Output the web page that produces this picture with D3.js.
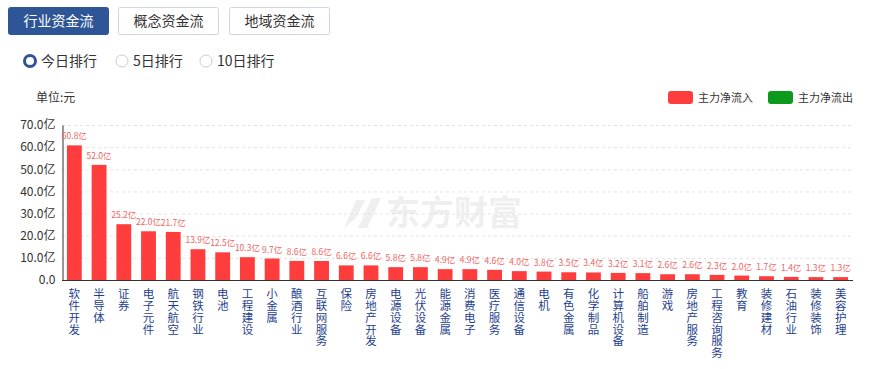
<!DOCTYPE html>
<html>
<head>
<meta charset="utf-8">
<script src="https://cdn.jsdelivr.net/npm/d3@7.9.0/dist/d3.min.js"></script>
<style>
  body { margin: 0; background: #fff; font-family: "Microsoft YaHei", "Noto Sans CJK SC", sans-serif; }
  svg { display: block; }
</style>
</head>
<body>
<svg id="chart" width="883" height="369"></svg>
<script>
// Data
const categories = ['软件开发', '半导体', '证券', '电子元件', '航天航空', '钢铁行业', '电池', '工程建设',
    '小金属', '酿酒行业', '互联网服务', '保险', '房地产开发', '电源设备', '光伏设备', '能源金属',
    '消费电子', '医疗服务', '通信设备', '电机', '有色金属', '化学制品', '计算机设备', '船舶制造',
    '游戏', '房地产服务', '工程咨询服务', '教育', '装修建材', '石油行业', '装修装饰', '美容护理'];
const inflow = [60.8, 52.0, 25.2, 22.0, 21.7, 13.9, 12.5, 10.3, 9.7, 8.6, 8.6, 6.6, 6.6, 5.8, 5.8, 4.9,
    4.9, 4.6, 4.0, 3.8, 3.5, 3.4, 3.2, 3.1, 2.6, 2.6, 2.3, 2.0, 1.7, 1.4, 1.3, 1.3];
const yTicks = [0, 10, 20, 30, 40, 50, 60, 70];
const tabs = ['行业资金流', '概念资金流', '地域资金流'];
const ranks = ['今日排行', '5日排行', '10日排行'];
const legendItems = [{ name: '主力净流入', color: '#ff3d3d' }, { name: '主力净流出', color: '#0c9a1c' }];

const font = '"Microsoft YaHei", "Noto Sans CJK SC", sans-serif';
const svg = d3.select('#chart');

// Tabs
const tabX = [8, 118, 229];
tabs.forEach((t, i) => {
    const g = svg.append('g').attr('transform', `translate(${tabX[i]}, 7)`);
    g.append('rect')
        .attr('x', 0.5).attr('y', 0.5)
        .attr('width', 100).attr('height', 27)
        .attr('rx', 2)
        .attr('fill', i === 0 ? '#2e5596' : '#fff')
        .attr('stroke', i === 0 ? '#2e5596' : '#cfd6e0');
    g.append('text')
        .attr('x', 50.5).attr('y', 19)
        .attr('text-anchor', 'middle')
        .attr('font-family', font)
        .attr('font-size', 14)
        .attr('fill', i === 0 ? '#fff' : '#333')
        .text(t);
});

// Radios
const radioX = [30, 122, 206];
ranks.forEach((r, i) => {
    const g = svg.append('g').attr('transform', `translate(${radioX[i]}, 61)`);
    if (i === 0) {
        g.append('circle').attr('r', 5.5).attr('fill', '#fff').attr('stroke', '#2e5596').attr('stroke-width', 3);
    } else {
        g.append('circle').attr('r', 6).attr('fill', '#fff').attr('stroke', '#ccc');
    }
    g.append('text')
        .attr('x', 11).attr('y', 5)
        .attr('font-family', font)
        .attr('font-size', 14)
        .attr('fill', '#333')
        .text(r);
});

// Unit + legend
svg.append('text')
    .attr('x', 36).attr('y', 102)
    .attr('font-family', font).attr('font-size', 12).attr('fill', '#333')
    .text('单位:元');

const legendX = [668, 768];
legendItems.forEach((d, i) => {
    svg.append('rect')
        .attr('x', legendX[i]).attr('y', 91)
        .attr('width', 25).attr('height', 13).attr('rx', 3)
        .attr('fill', d.color);
    svg.append('text')
        .attr('x', legendX[i] + 30).attr('y', 102)
        .attr('font-family', font).attr('font-size', 11).attr('fill', '#333')
        .text(d.name);
});

// Watermark
const wm = svg.append('g').attr('transform', 'translate(340, 194)').attr('opacity', 0.06);
wm.append('path')
    .attr('d', 'M4 34 L16 6 L25 6 L16 24 Z M18 34 L32 4 L41 4 L27 34 Z')
    .attr('fill', '#000');
wm.append('text')
    .attr('x', 46).attr('y', 31)
    .attr('font-family', font).attr('font-size', 34).attr('font-weight', 'bold')
    .attr('fill', '#000')
    .text('东方财富');

// Chart area
const margin = { left: 62, right: 853, top: 125, bottom: 280 };

const x = d3.scaleBand()
    .domain(categories)
    .range([margin.left, margin.right])
    .paddingInner(0.4)
    .paddingOuter(0.2);

const y = d3.scaleLinear()
    .domain([0, 70])
    .range([margin.bottom, margin.top]);

// Gridlines
svg.append('g')
    .selectAll('line')
    .data(yTicks.filter(d => d > 0))
    .join('line')
    .attr('x1', margin.left).attr('x2', margin.right)
    .attr('y1', d => y(d) + 0.5).attr('y2', d => y(d) + 0.5)
    .attr('stroke', '#e3e3e3')
    .attr('stroke-dasharray', '3,3');

// Y axis
const yAxis = svg.append('g')
    .attr('transform', `translate(${margin.left + 0.5}, 0)`)
    .call(d3.axisLeft(y).tickValues(yTicks).tickSize(0).tickPadding(7)
        .tickFormat(d => d === 0 ? '0.0' : d.toFixed(1) + '亿'));
yAxis.select('.domain').attr('stroke', '#333');
yAxis.selectAll('text').attr('font-family', font).attr('font-size', 12).attr('fill', '#333');

// Bars
svg.append('g')
    .selectAll('rect')
    .data(inflow)
    .join('rect')
    .attr('x', (d, i) => x(categories[i]))
    .attr('y', d => y(d))
    .attr('width', x.bandwidth())
    .attr('height', d => y(0) - y(d))
    .attr('fill', '#ff3d3d');

// Value labels
svg.append('g')
    .selectAll('text')
    .data(inflow)
    .join('text')
    .attr('x', (d, i) => x(categories[i]) + x.bandwidth() / 2)
    .attr('y', d => y(d) - 6)
    .attr('text-anchor', 'middle')
    .attr('font-family', font)
    .attr('font-size', 8.5)
    .attr('fill', '#f06464')
    .text(d => d.toFixed(1) + '亿');

// X axis line
svg.append('line')
    .attr('x1', margin.left).attr('x2', margin.right)
    .attr('y1', y(0) + 0.5).attr('y2', y(0) + 0.5)
    .attr('stroke', '#333');

// Category labels, written vertically
svg.append('g')
    .selectAll('text')
    .data(categories)
    .join('text')
    .attr('x', d => x(d) + x.bandwidth() / 2)
    .attr('y', 288)
    .style('writing-mode', 'vertical-rl')
    .style('text-orientation', 'upright')
    .style('letter-spacing', '0.3px')
    .attr('font-family', font)
    .attr('font-size', 11.5)
    .attr('fill', '#1f3f8f')
    .text(d => d);
</script>
</body>
</html>
